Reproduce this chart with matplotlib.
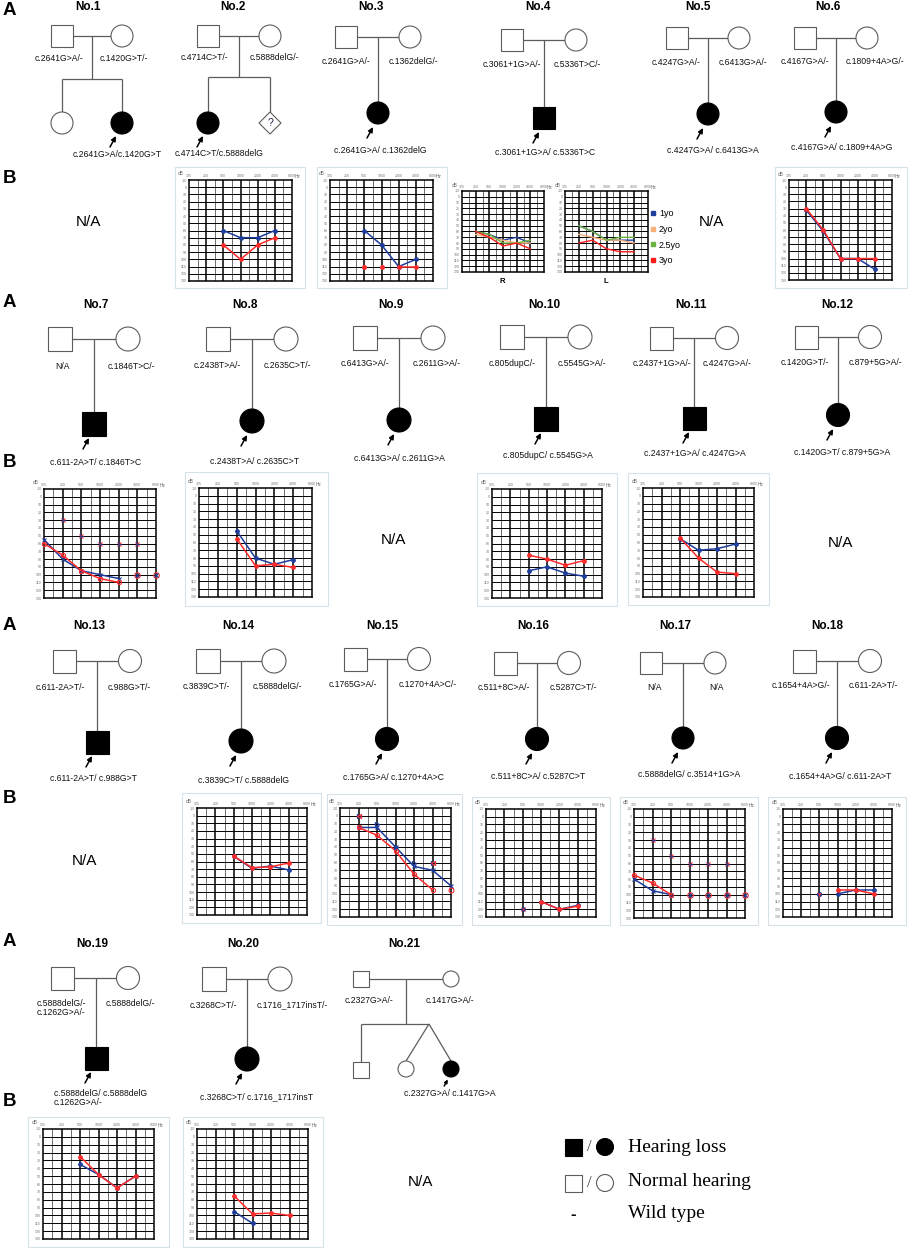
import matplotlib.pyplot as plt
from matplotlib.patches import Rectangle, Circle, Polygon
from matplotlib.lines import Line2D
from matplotlib.ticker import NullLocator

plt.rcParams['font.family'] = ['Liberation Sans', 'DejaVu Sans']

W, H = 913, 1249
FREQS = [125, 250, 500, 1000, 2000, 4000, 8000]
DB_TICKS = list(range(-10, 131, 10))
RED = '#ff2a2a'
BLUE = '#1d3c9c'
LINE = '#5c5c5c'

# ---------------- genotypes ----------------
father_gt = ['c.2641G>A/-', 'c.4714C>T/-', 'c.2641G>A/-', 'c.3061+1G>A/-', 'c.4247G>A/-',
             'c.4167G>A/-', 'N/A', 'c.2438T>A/-', 'c.6413G>A/-', 'c.805dupC/-',
             'c.2437+1G>A/-', 'c.1420G>T/-', 'c.611-2A>T/-', 'c.3839C>T/-', 'c.1765G>A/-',
             'c.511+8C>A/-', 'N/A', 'c.1654+4A>G/-', 'c.5888delG/-\nc.1262G>A/-',
             'c.3268C>T/-', 'c.2327G>A/-']
mother_gt = ['c.1420G>T/-', 'c.5888delG/-', 'c.1362delG/-', 'c.5336T>C/-', 'c.6413G>A/-',
             'c.1809+4A>G/-', 'c.1846T>C/-', 'c.2635C>T/-', 'c.2611G>A/-', 'c.5545G>A/-',
             'c.4247G>A/-', 'c.879+5G>A/-', 'c.988G>T/-', 'c.5888delG/-', 'c.1270+4A>C/-',
             'c.5287C>T/-', 'N/A', 'c.611-2A>T/-', 'c.5888delG/-',
             'c.1716_1717insT/-', 'c.1417G>A/-']
proband_gt = ['c.2641G>A/c.1420G>T', 'c.4714C>T/c.5888delG', 'c.2641G>A/ c.1362delG',
              'c.3061+1G>A/ c.5336T>C', 'c.4247G>A/ c.6413G>A', 'c.4167G>A/ c.1809+4A>G',
              'c.611-2A>T/ c.1846T>C', 'c.2438T>A/ c.2635C>T', 'c.6413G>A/ c.2611G>A',
              'c.805dupC/ c.5545G>A', 'c.2437+1G>A/ c.4247G>A', 'c.1420G>T/ c.879+5G>A',
              'c.611-2A>T/ c.988G>T', 'c.3839C>T/ c.5888delG', 'c.1765G>A/ c.1270+4A>C',
              'c.511+8C>A/ c.5287C>T', 'c.5888delG/ c.3514+1G>A', 'c.1654+4A>G/ c.611-2A>T',
              'c.5888delG/ c.5888delG\nc.1262G>A/-', 'c.3268C>T/ c.1716_1717insT',
              'c.2327G>A/ c.1417G>A']
proband_male = [False, False, False, True, False, False, True, False, False, True, True,
                False, True, False, False, False, False, False, True, False, False]

# ---------------- audiogram values (dB HL) ----------------
no2_f = [500, 1000, 2000, 4000]
no2_red = [80, 100, 80, 70]
no2_blue = [60, 70, 70, 60]

no3_f = [500, 1000, 2000, 4000]
no3_blue = [60, 80, 110, 100]
no3_red_f = [2000, 4000]
no3_red = [110, 110]
no3_red_nr_f = [500, 1000]
no3_red_nr = [110, 110]

no4_f = [250, 500, 1000, 2000, 4000]
no4_ages = ['1yo', '2yo', '2.5yo', '3yo']
no4_colors = ['#1f3f9f', '#f6b07a', '#6cb43f', '#ff1a1a']
no4_R = [[60, 65, 75, 70, 80], [65, 70, 75, 80, 80], [60, 65, 80, 80, 75], [60, 70, 85, 80, 90]]
no4_L = [[50, 60, 75, 75, 75], [65, 70, 75, 75, 80], [50, 60, 75, 70, 70], [80, 75, 90, 95, 95]]

no6_f = [250, 500, 1000, 2000, 4000]
no6_blue = [32, 62, 100, 100, 115]
no6_red = [30, 60, 100, 100, 100]

no7_f = [125, 250, 500, 1000, 2000]
no7_blue = [55, 80, 95, 100, 105]
no7_red = [60, 75, 95, 105, 110]
no7_bone_f = [250, 500, 1000, 2000, 4000]
no7_bone = [30, 50, 60, 60, 60]
no7_nr_f = [4000, 8000]
no7_nr = [100, 100]

no8_f = [500, 1000, 2000, 4000]
no8_blue = [45, 80, 88, 82]
no8_red = [55, 90, 88, 92]

no10_f = [500, 1000, 2000, 4000]
no10_red = [75, 80, 88, 82]
no10_blue = [95, 90, 98, 102]

no11_f = [500, 1000, 2000, 4000]
no11_blue = [55, 70, 68, 62]
no11_red = [54, 80, 98, 100]

no14_f = [500, 1000, 2000, 4000]
no14_red = [53, 68, 67, 62]
no14_blue = [53, 69, 66, 71]

no15_blue_f = [250, 500, 1000, 2000, 4000, 8000]
no15_blue = [15, 15, 40, 65, 70, 90]
no15_red_f = [250, 500, 1000, 2000, 4000]
no15_red = [15, 25, 45, 75, 95]
no15_red_nr_f = [8000]
no15_red_nr = [95]
no15_bone_blue_f = [250, 500, 1000, 2000, 4000]
no15_bone_blue = [0, 10, 40, 60, 60]
no15_bone_red_f = [250, 4000]
no15_bone_red = [0, 60]

no16_f = [1000, 2000, 4000]
no16_blue = [110, 120, 115]
no16_red = [110, 120, 116]
no16_nr_f = [500]
no16_nr = [120]

no17_f = [125, 250, 500]
no17_red = [75, 85, 100]
no17_blue = [80, 95, 100]
no17_bone_f = [250, 500, 1000, 2000, 4000]
no17_bone = [30, 50, 60, 60, 60]
no17_nr_f = [1000, 2000, 4000, 8000]
no17_nr = [100, 100, 100, 100]

no18_f = [1000, 2000, 4000]
no18_blue = [100, 95, 95]
no18_red = [95, 95, 100]
no18_nr_f = [500]
no18_nr = [100]

no19_f = [500, 1000, 2000, 4000]
no19_red = [25, 48, 65, 50]
no19_blue = [35, 48, 65, 50]

no20_red_f = [500, 1000, 2000, 4000]
no20_red = [75, 98, 97, 100]
no20_blue_f = [500, 1000]
no20_blue = [95, 110]

# ---------------- figure ----------------
fig = plt.figure(figsize=(W / 100, H / 100), dpi=100)
ax = fig.add_axes([0, 0, 1, 1])
ax.set_xlim(0, W)
ax.set_ylim(H, 0)
ax.axis('off')


def sym(x, y, male, filled, size):
    fc = 'black' if filled else 'white'
    ec = 'black' if filled else LINE
    if male:
        ax.add_patch(Rectangle((x - size / 2, y - size / 2), size, size, fc=fc, ec=ec, lw=0.8, zorder=3))
    else:
        ax.add_patch(Circle((x, y), size / 2, fc=fc, ec=ec, lw=0.8, zorder=3))


def line(xs, ys):
    ax.plot(xs, ys, color=LINE, lw=0.9, zorder=2, solid_capstyle='butt')


def arrow(x, y, small=False):
    d = 0.6 if small else 1.0
    ax.annotate('', xy=(x + 3 * d, y - 6 * d), xytext=(x - 3 * d, y + 5 * d),
                arrowprops=dict(arrowstyle='-|>', color='k', lw=1.1, mutation_scale=6 * d + 1,
                                shrinkA=0, shrinkB=0))


def gt(x, y, s, ha='center'):
    ax.text(x, y, s, fontsize=6.2, ha=ha, va='center', linespacing=1.0, color='#111')


def family(i, dx, py, cy, laby, flx, mlx, plx, ply, off, size):
    fx, mx = dx - off, dx + off
    line([fx + size / 2, mx - size / 2], [py, py])
    line([dx, dx], [py, cy - size / 2])
    sym(fx, py, True, False, size)
    sym(mx, py, False, False, size)
    sym(dx, cy, proband_male[i], True, size)
    gt(flx, laby, father_gt[i])
    gt(mlx, laby, mother_gt[i])
    gt(plx, ply, proband_gt[i])
    arrow(dx - 8, cy + 20)


# titles
title_x = [88, 233, 371, 538, 698, 828, 96, 245, 391, 544, 691, 837,
           89, 238, 382, 533, 675, 827, 92, 243, 404]
title_y = [7, 305, 626, 944]
for i, tx in enumerate(title_x):
    row = min(i // 6, 3)
    ax.text(tx, title_y[row], 'No.%d' % (i + 1), fontsize=8.5, fontweight='bold',
            ha='center', va='center')

for y in [10, 302, 625, 941]:
    ax.text(9, y, 'A', fontsize=13.5, fontweight='bold', ha='center', va='center')
for y in [178, 462, 798, 1101]:
    ax.text(9, y, 'B', fontsize=13.5, fontweight='bold', ha='center', va='center')

# No.1 (two daughters)
line([73, 111], [36, 36]); line([92, 92], [36, 79]); line([62, 122], [79, 79])
line([62, 62], [79, 112]); line([122, 122], [79, 112])
sym(62, 36, True, False, 22); sym(122, 36, False, False, 22)
sym(62, 123, False, False, 22); sym(122, 123, False, True, 22)
gt(59, 58, father_gt[0]); gt(124, 58, mother_gt[0]); gt(117, 154, proband_gt[0])
arrow(113, 142)

# No.2 (proband and unknown sibling)
line([219, 259], [36, 36]); line([239, 239], [36, 77]); line([208, 270], [77, 77])
line([208, 208], [77, 112]); line([270, 270], [77, 112])
sym(208, 36, True, False, 22); sym(270, 36, False, False, 22)
sym(208, 123, False, True, 22)
ax.add_patch(Polygon([(270, 112), (281, 123), (270, 134), (259, 123)], fc='white', ec=LINE, lw=0.8, zorder=3))
ax.text(270, 123, '?', fontsize=7.5, ha='center', va='center', color='#1a2a4a', zorder=4)
gt(204, 57, father_gt[1]); gt(274, 57, mother_gt[1]); gt(219, 153, proband_gt[1])
arrow(200, 142)

# single-child families: index, drop x, parent y, child y, label y, label xs, proband label pos
fam = [
    (2, 378, 37, 113, 61, 346, 413, 380, 150, 32, 22),
    (3, 544, 40, 118, 64, 512, 577, 545, 152, 32, 22),
    (4, 708, 38, 114, 62, 676, 743, 713, 150, 31, 22),
    (5, 836, 38, 112, 61, 805, 875, 842, 147, 31, 22),
    (6, 94, 339, 424, 366, 62, 131, 96, 462, 34, 24),
    (7, 252, 339, 421, 365, 217, 287, 254, 461, 34, 24),
    (8, 399, 338, 420, 363, 365, 437, 399, 458, 34, 24),
    (9, 546, 337, 419, 363, 512, 582, 548, 455, 34, 24),
    (10, 694, 338, 418, 363, 662, 727, 695, 453, 33, 23),
    (11, 838, 337, 415, 362, 805, 875, 842, 452, 32, 23),
    (12, 97, 661, 742, 687, 60, 129, 93, 778, 33, 23),
    (13, 241, 661, 741, 686, 206, 277, 244, 780, 33, 24),
    (14, 387, 659, 739, 684, 353, 428, 393, 777, 32, 23),
    (15, 537, 663, 739, 687, 504, 573, 538, 776, 32, 23),
    (16, 683, 663, 738, 687, 655, 717, 689, 774, 32, 22),
    (17, 837, 661, 738, 685, 801, 873, 840, 776, 33, 23),
    (19, 247, 979, 1059, 1005, 213, 292, 256, 1097, 33, 24),
]
for f in fam:
    family(*f)

# No.19 (two-line labels)
line([74, 116], [978, 978]); line([96, 96], [978, 1047])
sym(62, 978, True, False, 23); sym(128, 978, False, False, 23); sym(96, 1058, True, True, 23)
gt(61, 1008, father_gt[18]); gt(130, 1003, mother_gt[18]); gt(54, 1098, proband_gt[18], ha='left')
arrow(88, 1078)

# No.21 (twins)
line([369, 443], [979, 979]); line([406, 406], [979, 1024]); line([361, 429], [1024, 1024])
line([361, 361], [1024, 1062]); line([429, 406], [1024, 1061]); line([429, 451], [1024, 1061])
sym(361, 979, True, False, 16); sym(451, 979, False, False, 16)
sym(361, 1070, True, False, 16); sym(406, 1069, False, False, 16); sym(451, 1069, False, True, 16)
gt(369, 1000, father_gt[20]); gt(450, 1000, mother_gt[20]); gt(450, 1093, proband_gt[20])
arrow(446, 1083, small=True)

# N/A markers
for x, y in [(88, 222), (711, 222), (393, 540), (840, 543), (84, 861), (420, 1182)]:
    ax.text(x, y, 'N/A', fontsize=11, ha='center', va='center')


# ---------------- audiograms ----------------
def audiogram(box, frame=None):
    x0, y0, x1, y1 = box
    if frame:
        ax.add_patch(Rectangle((frame[0], frame[1]), frame[2] - frame[0], frame[3] - frame[1],
                               fill=False, ec='#d6e1ea', lw=0.8))
    a = fig.add_axes([x0 / W, 1 - y1 / H, (x1 - x0) / W, (y1 - y0) / H])
    a.set_xscale('log', base=2)
    a.set_xlim(125, 8000)
    a.set_ylim(130, -10)
    for fq in FREQS[1:-1]:
        a.axvline(fq, color='k', lw=1.1, zorder=1)
    for fq in FREQS[:-1]:
        a.axvline(fq * 2 ** 0.5, color='k', lw=0.4, zorder=1)
    for d in DB_TICKS[1:-1]:
        a.axhline(d, color='k', lw=0.7, zorder=1)
    for sp in a.spines.values():
        sp.set_linewidth(1.1)
    a.xaxis.set_minor_locator(NullLocator())
    a.set_xticks(FREQS)
    a.set_xticklabels([str(fq) for fq in FREQS])
    a.xaxis.tick_top()
    a.set_yticks(DB_TICKS)
    a.set_yticklabels([str(d) for d in DB_TICKS])
    a.tick_params(length=0, labelsize=2.6, labelcolor='#777', pad=1.5)
    a.text(-0.05, 1.035, 'dB', transform=a.transAxes, fontsize=3.4, color='#666', ha='right', va='bottom')
    a.text(1.03, 1.01, 'Hz', transform=a.transAxes, fontsize=3.4, color='#666', ha='left', va='bottom')
    return a


def curve(a, f, v, color, marker='o', ms=2.6, fill=True):
    a.plot(f, v, color=color, lw=1.1, marker=marker, ms=ms, zorder=3, clip_on=False,
           mfc=color if fill else 'none', mew=0.8)


def points(a, f, v, color, marker, ms=3):
    a.plot(f, v, ls='none', color=color, marker=marker, ms=ms, mfc='none', mew=0.8,
           zorder=4, clip_on=False)


a = audiogram((189, 180, 292, 281), (175, 167, 305, 288))
curve(a, no2_f, no2_blue, BLUE); curve(a, no2_f, no2_red, RED)

a = audiogram((330, 180, 433, 281), (317, 167, 447, 288))
curve(a, no3_f, no3_blue, BLUE); curve(a, no3_red_f, no3_red, RED)
a.plot(no3_red_nr_f, no3_red_nr, ls='none', marker='o', ms=2.6, color=RED, zorder=3)

aR = audiogram((462, 191, 544, 272))
aL = audiogram((565, 191, 648, 272))
for k in range(len(no4_ages)):
    aR.plot(no4_f, no4_R[k], color=no4_colors[k], lw=1.0, zorder=3)
    aL.plot(no4_f, no4_L[k], color=no4_colors[k], lw=1.0, zorder=3)
ax.text(502, 281, 'R', fontsize=5.5, fontweight='bold', ha='center', va='center')
ax.text(606, 281, 'L', fontsize=5.5, fontweight='bold', ha='center', va='center')
handles = [Line2D([], [], ls='none', marker='s', ms=2.5, color=c) for c in no4_colors]
ax.legend(handles, no4_ages, loc='upper left', bbox_to_anchor=(650 / W, 1 - 209 / H),
          frameon=False, fontsize=6.5, handlelength=0.6, handletextpad=0.4,
          labelspacing=0.75, borderaxespad=0, borderpad=0)

a = audiogram((789, 180, 892, 280), (775, 167, 907, 288))
curve(a, no6_f, no6_blue, BLUE); curve(a, no6_f, no6_red, RED)

a = audiogram((44, 489, 156, 598))
curve(a, no7_f, no7_blue, BLUE, marker='x', ms=2.5)
curve(a, no7_f, no7_red, RED, marker='o', ms=3, fill=False)
points(a, no7_bone_f, no7_bone, RED, 'x', 3.5); points(a, no7_bone_f, no7_bone, BLUE, '4', 3.5)
points(a, no7_nr_f, no7_nr, RED, 'o', 4); points(a, no7_nr_f, no7_nr, BLUE, 'x', 2.5)

a = audiogram((199, 488, 312, 597), (185, 472, 328, 606))
curve(a, no8_f, no8_blue, BLUE); curve(a, no8_f, no8_red, RED)

a = audiogram((492, 489, 602, 598), (477, 473, 617, 606))
curve(a, no10_f, no10_red, RED); curve(a, no10_f, no10_blue, BLUE)

a = audiogram((643, 488, 754, 597), (628, 473, 769, 605))
curve(a, no11_f, no11_blue, BLUE); curve(a, no11_f, no11_red, RED)

a = audiogram((197, 808, 307, 915), (182, 793, 321, 923))
curve(a, no14_f, no14_blue, BLUE); curve(a, no14_f, no14_red, RED)

a = audiogram((340, 808, 451, 917), (327, 794, 462, 925))
curve(a, no15_blue_f, no15_blue, BLUE, marker='x', ms=2.5)
curve(a, no15_red_f, no15_red, RED, marker='o', ms=3, fill=False)
points(a, no15_red_nr_f, no15_red_nr, RED, 'o', 3.5)
points(a, no15_bone_blue_f, no15_bone_blue, BLUE, '>', 3)
points(a, no15_bone_red_f, no15_bone_red, RED, '<', 3)

a = audiogram((486, 809, 596, 917), (472, 797, 610, 925))
curve(a, no16_f, no16_blue, BLUE); curve(a, no16_f, no16_red, RED)
points(a, no16_nr_f, no16_nr, RED, 'x', 3); points(a, no16_nr_f, no16_nr, BLUE, 'o', 2.5)

a = audiogram((634, 809, 745, 918), (620, 797, 758, 925))
curve(a, no17_f, no17_blue, BLUE, marker='x', ms=2.5)
curve(a, no17_f, no17_red, RED, marker='o', ms=3, fill=False)
points(a, no17_bone_f, no17_bone, RED, 'x', 3.5); points(a, no17_bone_f, no17_bone, BLUE, '4', 3.5)
points(a, no17_nr_f, no17_nr, RED, 'o', 4); points(a, no17_nr_f, no17_nr, BLUE, 'x', 2.5)

a = audiogram((783, 809, 892, 917), (768, 797, 906, 925))
curve(a, no18_f, no18_blue, BLUE); curve(a, no18_f, no18_red, RED)
a.plot(no18_nr_f, no18_nr, ls='none', marker='o', ms=2.8, color=BLUE, zorder=4)
points(a, no18_nr_f, no18_nr, RED, '1', 3.5)

a = audiogram((43, 1129, 154, 1239), (28, 1117, 169, 1247))
curve(a, no19_f, no19_blue, BLUE); curve(a, no19_f, no19_red, RED)

a = audiogram((197, 1129, 308, 1239), (183, 1117, 323, 1247))
curve(a, no20_blue_f, no20_blue, BLUE); curve(a, no20_red_f, no20_red, RED)

# ---------------- symbol key ----------------
ax.add_patch(Rectangle((565, 1139), 17, 17, fc='black', ec='black', lw=0.8))
ax.add_patch(Circle((605, 1147), 8.5, fc='black', ec='black', lw=0.8))
ax.add_patch(Rectangle((565, 1175), 17, 17, fc='white', ec=LINE, lw=0.8))
ax.add_patch(Circle((605, 1183), 8.5, fc='white', ec=LINE, lw=0.8))
for y in [1147, 1183]:
    ax.text(589, y, '/', fontsize=12, ha='center', va='center', color='#444', family='Liberation Serif')
ax.text(573, 1214, '-', fontsize=12, fontweight='bold', ha='center', va='center')
for y, s in [(1147, 'Hearing loss'), (1182, 'Normal hearing'), (1213, 'Wild type')]:
    ax.text(628, y, s, fontsize=14, ha='left', va='center', family='Liberation Serif')

fig.savefig('out.png', dpi=100)
